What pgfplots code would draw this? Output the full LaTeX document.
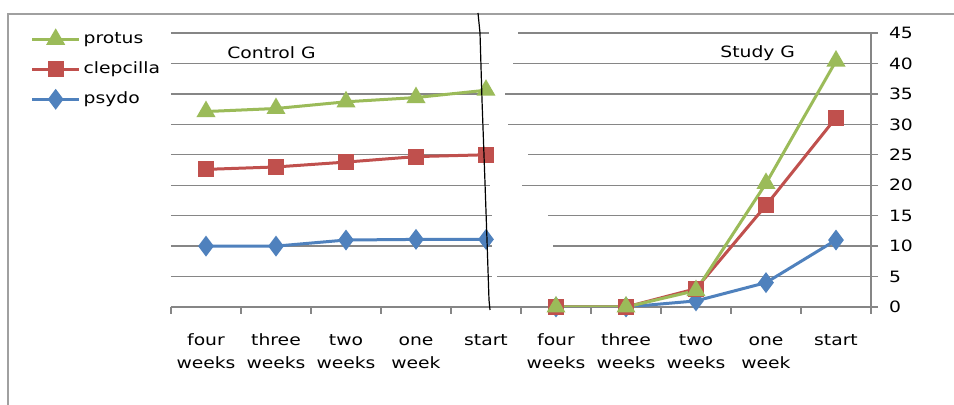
\documentclass[border=0pt]{standalone}
\usepackage{fontspec}
\setmainfont{DejaVu Sans}[FakeStretch=1.2]
\usepackage{pgfplots}
\pgfplotsset{compat=1.18}
\definecolor{cgreen}{RGB}{155,187,89}
\definecolor{cred}{RGB}{192,80,77}
\definecolor{cblue}{RGB}{79,129,189}
\definecolor{cgrid}{RGB}{134,134,134}
\definecolor{cframe}{RGB}{160,160,160}
\begin{document}
\begin{tikzpicture}[font=\fontsize{7.8}{11.5}\selectfont]
\useasboundingbox (0,0) rectangle (477pt,-202.5pt);
\fill[white] (0,0) rectangle (477pt,-202.5pt);
\draw[cframe, line width=0.6pt] (4pt,-202.5pt) -- (4pt,-7pt) -- (477pt,-7pt);
\begin{axis}[
  at={(85.5pt,-153.5pt)}, anchor=south west,
  scale only axis, width=350pt, height=137pt,
  xmin=0.5, xmax=10.5, ymin=0, ymax=45,
  axis x line*=bottom, axis y line*=right,
  axis line style={cgrid, line width=0.7pt},
  ytick={0,5,...,45},
  ymajorgrids, grid style={cgrid, line width=0.7pt},
  tick align=outside,
  major tick length=3.5pt,
  tick style={cgrid, line width=0.7pt},
  xtick={0.5,1.5,...,10.5}, xticklabels={},
  extra x ticks={1,2,...,10},
  extra x tick labels={\strut four\\weeks,\strut three\\weeks,\strut two\\weeks,\strut one\\week,\strut start,\strut four\\weeks,\strut three\\weeks,\strut two\\weeks,\strut one\\week,\strut start},
  extra x tick style={major tick length=0pt, grid=none,
     xticklabel style={align=center, anchor=north, yshift=-7.5pt}},
  yticklabel style={anchor=west, xshift=2pt},
  /pgf/number format/assume math mode=true,
  legend style={at={(-0.201,1.026)}, anchor=north west, draw=none, fill=none,
     inner sep=0pt, row sep=2pt, cells={anchor=west},
     nodes={inner sep=1.5pt, minimum height=13pt}},
  legend image code/.code={\draw[mark repeat=2,mark phase=2,#1] plot coordinates {(0pt,0pt)(11.75pt,0pt)(23.5pt,0pt)};},
]
% gaps in gridlines near the middle
\draw[white, line width=1.6pt] (5.04,45) -- (5.46,45);
\draw[white, line width=1.6pt] (5.04,40) -- (5.39,40);
\draw[white, line width=1.6pt] (5.04,35) -- (5.27,35);
\draw[white, line width=1.6pt] (5.04,30) -- (5.31,30);
\draw[white, line width=1.6pt] (5.06,25) -- (5.60,25);
\draw[white, line width=1.6pt] (5.06,20) -- (5.51,20);
\draw[white, line width=1.6pt] (5.08,15) -- (5.89,15);
\draw[white, line width=1.6pt] (5.08,10) -- (5.96,10);
\draw[white, line width=1.6pt] (5.08,5) -- (5.16,5);
\addplot[cgreen, line width=1.5pt, mark=triangle*, mark size=4pt, mark options={solid}]
  coordinates {(1,32.1) (2,32.6) (3,33.7) (4,34.4) (5,35.6)};
\addlegendentry{protus}
\addplot[cred, line width=1.5pt, mark=square*, mark size=3.3pt]
  coordinates {(1,22.6) (2,23.0) (3,23.8) (4,24.7) (5,25.0)};
\addlegendentry{clepcilla}
\addplot[cblue, line width=1.5pt, mark=diamond*, mark size=4pt]
  coordinates {(1,10.0) (2,10.0) (3,11.0) (4,11.1) (5,11.1)};
\addlegendentry{psydo}
\addplot[forget plot, cblue, line width=1.5pt, mark=diamond*, mark size=4pt]
  coordinates {(6,0) (7,0) (8,1.0) (9,4.0) (10,11.0)};
\addplot[forget plot, cred, line width=1.5pt, mark=square*, mark size=3.3pt]
  coordinates {(6,0) (7,0) (8,3.0) (9,16.7) (10,31.1)};
\addplot[forget plot, cgreen, line width=1.5pt, mark=triangle*, mark size=4pt]
  coordinates {(6,0) (7,0) (8,2.7) (9,20.3) (10,40.4)};
\end{axis}
\node[anchor=west, inner sep=0pt] at (113.5pt,-26.5pt) {Control G};
\node[anchor=west, inner sep=0pt] at (360pt,-26.5pt) {Study G};
\draw[black, line width=0.6pt] (239pt,-6.5pt) -- (240pt,-16.5pt) -- (241pt,-50pt) -- (242.5pt,-91.5pt) -- (243.5pt,-120pt) -- (244.5pt,-150pt) -- (245pt,-155pt);
\end{tikzpicture}
\end{document}
